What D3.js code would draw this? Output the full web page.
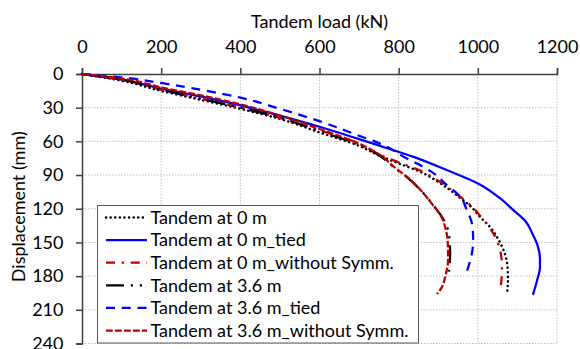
<!DOCTYPE html>
<html>
<head>
<meta charset="utf-8">
<script src="https://cdn.jsdelivr.net/npm/d3@7"></script>
<style>
  html, body { margin: 0; padding: 0; background: #fff; }
  svg { display: block; font-family: Lato, "Open Sans", sans-serif; }
</style>
</head>
<body>
<svg id="chart" width="580" height="349"></svg>
<script>
// Load (kN) versus displacement (mm) for each tandem configuration
const loadTicks = [0, 200, 400, 600, 800, 1000, 1200];
const dispTicks = [0, 30, 60, 90, 120, 150, 180, 210, 240];

const t0Load = [0, 100, 200, 300, 400, 500, 600, 700, 753, 803, 854, 904, 947, 988, 1005, 1030, 1056, 1069, 1075, 1076, 1074];
const t0Disp = [0, 6, 15, 23, 31, 40, 52, 64, 73, 80, 87, 97, 108, 120, 127, 136, 150, 161, 172, 184, 195];

const t0TiedLoad = [0, 100, 200, 300, 400, 500, 600, 700, 753, 836, 921, 1005, 1056, 1089, 1120, 1139, 1152, 1157, 1157, 1150, 1139];
const t0TiedDisp = [0, 5, 13, 20, 28, 37, 47, 58, 64, 73.6, 85.5, 98.3, 110.6, 121, 131, 143, 154, 165.6, 172, 183.4, 196.7];

const t0NoSymLoad = [0, 100, 200, 300, 400, 500, 600, 700, 753, 803, 854, 904, 947, 988, 1005, 1030, 1048, 1058, 1061, 1060, 1056];
const t0NoSymDisp = [0, 5, 14, 22, 30, 39, 50, 62, 72, 79, 86, 96, 107, 119, 126, 137, 148, 160, 170, 182, 193];

const t36Load = [0, 100, 200, 300, 400, 500, 600, 700, 753, 786, 829, 862, 887, 909, 922, 929, 930, 927];
const t36Disp = [0, 5, 14, 22, 30, 39, 51, 63, 73, 82.5, 94.4, 106, 116.6, 127, 136, 150, 160, 176];

const t36TiedLoad = [0, 100, 200, 300, 400, 500, 600, 700, 753, 820, 861, 887, 921, 955, 972, 985, 988, 987, 980, 968];
const t36TiedDisp = [0, 3, 8, 14, 21, 31, 42, 55, 62, 75, 82.5, 88, 98.8, 109, 121, 133, 145, 155, 167, 180];

const t36NoSymLoad = [0, 100, 200, 300, 400, 500, 600, 700, 753, 786, 829, 862, 887, 909, 918, 924, 925, 918, 909, 897];
const t36NoSymDisp = [0, 4, 12, 19, 27, 37, 49, 62, 72, 82, 94, 106, 117, 128, 137, 150, 165, 180, 190, 196];

const seriesNames = [
  "Tandem at 0 m",
  "Tandem at 0 m_tied",
  "Tandem at 0 m_without Symm.",
  "Tandem at 3.6 m",
  "Tandem at 3.6 m_tied",
  "Tandem at 3.6 m_without Symm."
];

const series = [
  { name: seriesNames[0], load: t0Load, disp: t0Disp, color: "#000000", width: 2.5, dash: "0.1,4.5", cap: "round" },
  { name: seriesNames[1], load: t0TiedLoad, disp: t0TiedDisp, color: "#0000FF", width: 2.25, dash: null, cap: "butt" },
  { name: seriesNames[2], load: t0NoSymLoad, disp: t0NoSymDisp, color: "#C00000", width: 2.25, dash: "9,6.75,2.25,6.75", cap: "butt" },
  { name: seriesNames[3], load: t36Load, disp: t36Disp, color: "#000000", width: 2.25, dash: "18,6.75,2.25,6.75,2.25,6.75", cap: "butt" },
  { name: seriesNames[4], load: t36TiedLoad, disp: t36TiedDisp, color: "#0000FF", width: 2.25, dash: "9,6.75", cap: "butt" },
  { name: seriesNames[5], load: t36NoSymLoad, disp: t36NoSymDisp, color: "#C00000", width: 2.25, dash: "6.75,2.25", cap: "butt" }
];

const svg = d3.select("#chart");
const x = d3.scaleLinear().domain([0, 1200]).range([82, 557]);
const y = d3.scaleLinear().domain([0, 240]).range([74, 343.5]);

// gridlines
const grid = svg.append("g").attr("stroke", "#BFBFBF").attr("stroke-width", 1).attr("stroke-dasharray", "1.5,1.5");
grid.selectAll("line.v").data(loadTicks.slice(1)).join("line")
  .attr("x1", d => x(d)).attr("x2", d => x(d)).attr("y1", y(0)).attr("y2", y(240));
grid.selectAll("line.h").data(dispTicks.slice(1)).join("line")
  .attr("y1", d => y(d)).attr("y2", d => y(d)).attr("x1", x(0)).attr("x2", x(1200));

// axes
const xAxis = svg.append("g").attr("transform", `translate(0,${y(0)})`)
  .call(d3.axisTop(x).tickValues(loadTicks).tickSize(6).tickPadding(15).tickFormat(d3.format("d")));
const yAxis = svg.append("g").attr("transform", `translate(${x(0)},0)`)
  .call(d3.axisLeft(y).tickValues(dispTicks).tickSize(6).tickPadding(12.5).tickFormat(d3.format("d")));
[xAxis, yAxis].forEach(a => {
  a.select(".domain").attr("stroke", "#404040").attr("stroke-width", 1.5);
  a.selectAll(".tick line").attr("stroke", "#404040").attr("stroke-width", 1.5);
  a.selectAll(".tick text").attr("fill", "#000").style("font-size", "18px").style("font-family", "Lato, sans-serif");
});

svg.append("text").attr("x", (x(0) + x(1200)) / 2).attr("y", 28)
  .attr("text-anchor", "middle").style("font-size", "18px").text("Tandem load (kN)");
svg.append("text").attr("transform", `translate(25,${(y(0) + y(240)) / 2 - 2}) rotate(-90)`)
  .attr("text-anchor", "middle").style("font-size", "18px").text("Displacement (mm)");

// curves
const line = d3.line().x(d => x(d[0])).y(d => y(d[1])).curve(d3.curveMonotoneY);
const plot = svg.append("g");
series.forEach(s => {
  plot.append("path")
    .datum(d3.zip(s.load, s.disp))
    .attr("fill", "none")
    .attr("stroke", s.color)
    .attr("stroke-width", s.width)
    .attr("stroke-linecap", s.cap)
    .attr("stroke-dasharray", s.dash)
    .attr("d", line);
});

// legend
const lg = svg.append("g");
lg.append("rect").attr("x", 97.5).attr("y", 205.5).attr("width", 321).attr("height", 137.5)
  .attr("fill", "#fff").attr("stroke", "#595959").attr("stroke-width", 1);
series.forEach((s, i) => {
  const cy = 217.5 + i * 22.6;
  lg.append("line").attr("x1", 106).attr("x2", 147).attr("y1", cy).attr("y2", cy)
    .attr("stroke", s.color).attr("stroke-width", s.width)
    .attr("stroke-linecap", s.cap).attr("stroke-dasharray", s.dash);
  lg.append("text").attr("x", 150.5).attr("y", cy).attr("dy", "0.35em")
    .style("font-size", "18px").text(s.name);
});
</script>
</body>
</html>
